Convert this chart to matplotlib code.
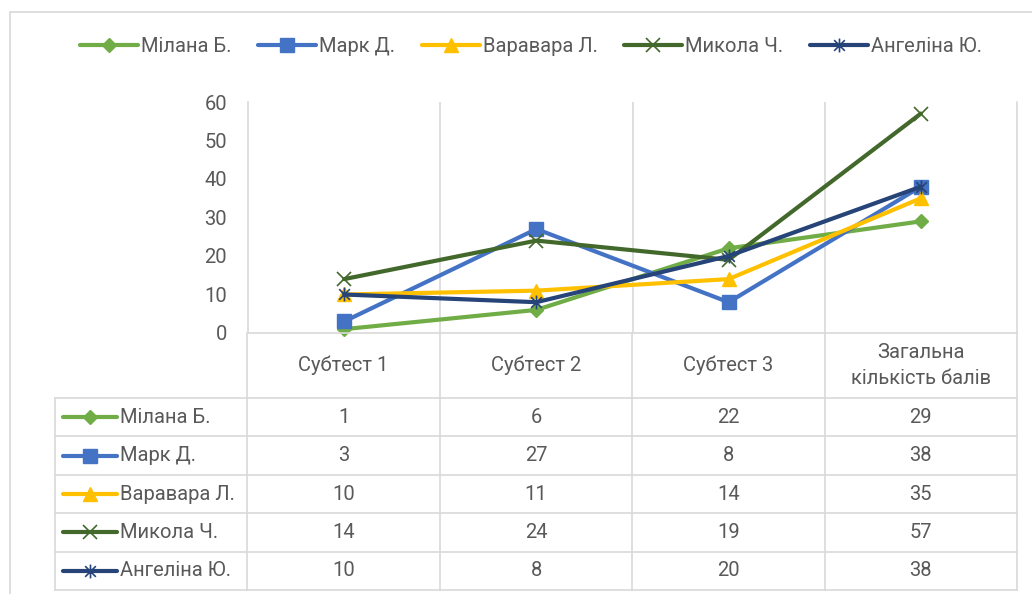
import matplotlib
matplotlib.use('Agg')
import matplotlib.pyplot as plt
from matplotlib.path import Path
from matplotlib.patches import Rectangle

categories = ['Субтест 1', 'Субтест 2', 'Субтест 3', 'Загальна\nкількість балів']
students = ['Мілана Б.', 'Марк Д.', 'Варавара Л.', 'Микола Ч.', 'Ангеліна Ю.']
milana = [1, 6, 22, 29]
mark = [3, 27, 8, 38]
varvara = [10, 11, 14, 35]
mykola = [14, 24, 19, 57]
anhelina = [10, 8, 20, 38]
y_ticks = [0, 10, 20, 30, 40, 50, 60]

series = [milana, mark, varvara, mykola, anhelina]

# excel-ish star marker: x with a vertical bar
star = Path([(-1, -1), (1, 1), (-1, 1), (1, -1), (0, -1.3), (0, 1.3)],
            [Path.MOVETO, Path.LINETO, Path.MOVETO, Path.LINETO, Path.MOVETO, Path.LINETO])

styles = [
    dict(color='#70AD47', marker='D', ms=7.5, mew=1),
    dict(color='#4472C4', marker='s', ms=9.5, mew=1),
    dict(color='#FFC000', marker='^', ms=10.5, mew=1),
    dict(color='#43682B', marker='x', ms=9.5, mew=1.2),
    dict(color='#264478', marker=star, ms=10, mew=1.2),
]

TXT = '#595959'
GRID = '#D9D9D9'
FONT = 'Roboto'
FS = 14.5
LW = 3
plt.rcParams['font.family'] = [FONT, 'DejaVu Sans']

W, H = 1032, 594
def fx(px): return px / W
def fy(py): return 1 - py / H

fig = plt.figure(figsize=(W / 100, H / 100), dpi=100)

# outer chart frame
fig.add_artist(Rectangle((fx(10), fy(640)), 2, fy(12) - fy(640), transform=fig.transFigure,
                         fill=False, ec=GRID, lw=1.2))

ax = fig.add_axes([fx(248), fy(333), fx(1017) - fx(248), fy(102) - fy(333)])
ax.set_xlim(-0.5, 3.5)
ax.set_ylim(0, 60)
ax.set_yticks(y_ticks)
ax.set_yticklabels([str(t) for t in y_ticks], color=TXT, fontsize=FS)
ax.tick_params(axis='y', length=0, pad=15)
ax.set_xticks([])
ax.spines['top'].set_visible(False)
for s in ['left', 'right', 'bottom']:
    ax.spines[s].set_color(GRID)
    ax.spines[s].set_linewidth(1.2)
for xv in [0.5, 1.5, 2.5]:
    ax.axvline(xv, color=GRID, lw=1.2, zorder=0)

x = list(range(len(categories)))
handles = []
for name, vals, st in zip(students, series, styles):
    ln, = ax.plot(x, vals, color=st['color'], lw=LW, marker=st['marker'], ms=st['ms'],
                  mfc=st['color'], mec=st['color'], mew=st['mew'], label=name,
                  solid_capstyle='round', clip_on=False)
    handles.append(ln)

fig.legend(handles, students, loc='center', bbox_to_anchor=(fx(531), fy(47)), ncol=5,
           frameon=False, fontsize=FS, labelcolor=TXT, handlelength=2.9,
           handletextpad=0.15, columnspacing=1.3)

# data table under the plot
tax = fig.add_axes([fx(55), fy(590), fx(1017) - fx(55), fy(333) - fy(590)])
tax.set_xlim(-1.5, 3.5)
tax.set_ylim(590, 333)
tax.axis('off')
head_bottom = 398
row_h = (590 - head_bottom) / len(students)

for xv in [-0.5, 0.5, 1.5, 2.5, 3.5]:
    tax.plot([xv, xv], [333, 590], color=GRID, lw=1.2, clip_on=False)
tax.plot([-1.5, -1.5], [head_bottom, 590], color=GRID, lw=1.2, clip_on=False)
for i in range(len(students) + 1):
    yv = head_bottom + i * row_h
    tax.plot([-1.5, 3.5], [yv, yv], color=GRID, lw=1.2, clip_on=False)

for j, cat in enumerate(categories):
    tax.text(j, (333 + head_bottom) / 2, cat, ha='center', va='center', color=TXT,
             fontsize=FS, linespacing=1.5)

for i, (name, vals, st) in enumerate(zip(students, series, styles)):
    yc = head_bottom + (i + 0.5) * row_h
    tax.plot([-1.46, -1.18], [yc, yc], color=st['color'], lw=LW, solid_capstyle='round')
    tax.plot([-1.32], [yc], color=st['color'], marker=st['marker'], ms=st['ms'],
             mfc=st['color'], mec=st['color'], mew=st['mew'])
    tax.text(-1.16, yc, name, ha='left', va='center', color=TXT, fontsize=FS)
    for j, v in enumerate(vals):
        tax.text(j, yc, str(v), ha='center', va='center', color=TXT, fontsize=FS)

fig.savefig('out.png', dpi=100)
